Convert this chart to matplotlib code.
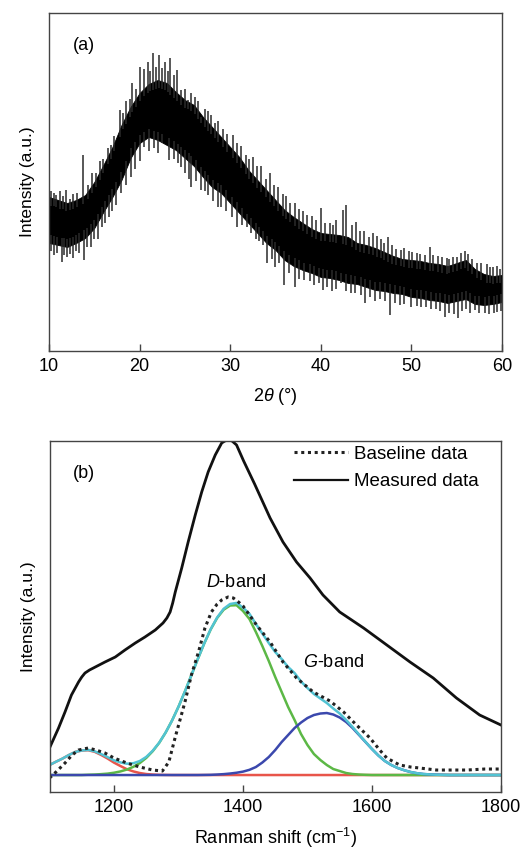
import matplotlib
matplotlib.use('Agg')
import matplotlib.pyplot as plt
from matplotlib.lines import Line2D
import numpy as np

plt.rcParams['font.family'] = ['Liberation Sans', 'DejaVu Sans']
plt.rcParams['mathtext.fontset'] = 'custom'
plt.rcParams['mathtext.rm'] = 'Liberation Sans'
plt.rcParams['mathtext.it'] = 'Liberation Sans:italic'

# ---- (a) XRD pattern: core band of the noisy trace ----
theta = np.arange(10, 61)
xrd_upper = [154, 151, 148, 151, 156, 169, 186, 204, 226, 244, 258, 267, 271, 268, 259, 251,
             246, 234, 224, 214, 204, 194, 181, 171, 161, 151, 141, 134, 128, 122, 118, 117,
             116, 114, 108, 106, 103, 99, 95, 92, 91, 90, 88, 87, 85, 88, 91, 82, 77, 75, 76]
xrd_lower = [108, 106, 104, 108, 113, 123, 139, 154, 171, 193, 208, 214, 211, 206, 201, 193,
             185, 174, 164, 158, 148, 138, 128, 118, 108, 101, 91, 85, 81, 78, 74, 73,
             71, 68, 67, 64, 61, 60, 58, 57, 54, 53, 51, 50, 48, 50, 52, 47, 46, 47, 49]

# noise spikes sticking out of the band (position, tip)
spike_up_x = [10.2, 10.5, 10.8, 11.2, 11.5, 11.9, 12.3, 12.7, 13.1, 13.8, 14.3, 14.8, 15.2, 15.6,
              16.0, 16.5, 16.8, 17.2, 17.8, 18.2, 18.5, 18.9, 19.2, 19.6, 20.0, 20.5, 20.9, 21.2,
              21.5, 21.8, 22.1, 22.5, 22.8, 23.1, 23.4, 23.8, 24.1, 24.6, 25.0, 25.3, 25.7, 26.1,
              26.5, 26.8, 27.2, 27.6, 27.9, 28.3, 28.7, 29.2, 29.7, 30.3, 30.8, 31.2, 31.7, 32.1,
              32.5, 33.0, 33.4, 33.9, 34.4, 34.8, 35.3, 35.8, 36.2, 36.6, 37.1, 37.6, 38.0, 38.5,
              39.0, 39.5, 40.0, 40.5, 41.0, 41.4, 41.7, 42.4, 42.8, 43.4, 43.9, 44.3, 44.8, 45.3,
              45.8, 46.2, 46.6, 47.0, 47.4, 47.9, 48.3, 48.8, 49.2, 49.7, 50.1, 50.6, 51.0, 51.5,
              52.0, 52.4, 52.9, 53.4, 53.9, 54.2, 54.6, 55.0, 55.5, 55.9, 56.3, 56.7, 57.2, 57.7,
              58.3, 58.7, 59.0, 59.5, 59.8]
spike_up_y = [160, 158, 156, 160, 155, 161, 152, 157, 158, 196, 166, 178, 178, 190,
              192, 203, 206, 215, 241, 238, 250, 252, 268, 262, 284, 282, 289, 280,
              298, 284, 296, 283, 289, 280, 293, 276, 281, 261, 262, 251, 258, 254,
              250, 234, 242, 240, 236, 228, 230, 222, 217, 216, 208, 205, 196, 192,
              194, 185, 185, 172, 178, 166, 164, 157, 155, 148, 148, 142, 140, 136,
              135, 131, 143, 128, 128, 126, 131, 141, 146, 126, 129, 120, 120, 114,
              118, 115, 112, 108, 114, 106, 102, 101, 103, 100, 99, 98, 97, 96,
              104, 96, 95, 94, 93, 92, 94, 94, 98, 100, 97, 92, 88, 88,
              87, 84, 84, 85, 82]
spike_dn_x = [10.2, 10.6, 10.9, 11.4, 11.7, 12.0, 12.3, 12.6, 13.0, 13.3, 13.9, 14.2, 14.6, 15.0,
              15.4, 15.8, 16.2, 16.6, 17.0, 17.4, 18.0, 18.5, 19.1, 19.5, 20.0, 20.5, 21.0, 21.6,
              22.0, 22.5, 23.3, 23.8, 24.2, 24.6, 25.0, 25.4, 25.7, 26.2, 26.8, 27.2, 27.6, 28.1,
              28.6, 29.0, 29.5, 30.2, 30.7, 31.3, 31.9, 32.3, 32.8, 33.2, 33.6, 34.1, 34.6, 35.0,
              35.4, 35.9, 36.5, 37.1, 37.6, 38.2, 38.8, 39.3, 39.8, 40.2, 40.7, 41.2, 41.7, 42.2,
              42.8, 43.3, 43.8, 44.4, 44.9, 45.4, 46.0, 46.5, 47.1, 47.6, 48.2, 48.7, 49.2, 50.0,
              50.6, 51.1, 51.6, 52.2, 52.7, 53.2, 53.7, 54.2, 54.7, 55.1, 55.6, 56.0, 56.5, 57.0,
              57.5, 58.1, 58.6, 59.1, 59.4, 59.9]
spike_dn_y = [100, 96, 98, 89, 96, 94, 97, 93, 100, 98, 91, 104, 104, 112,
              112, 124, 128, 134, 140, 146, 158, 166, 174, 182, 190, 204, 200, 203,
              198, 208, 191, 192, 188, 184, 178, 172, 164, 170, 161, 160, 156, 150,
              144, 144, 140, 134, 124, 126, 124, 118, 112, 110, 106, 88, 92, 84,
              88, 66, 78, 64, 72, 71, 70, 66, 68, 61, 64, 60, 62, 68,
              60, 58, 58, 56, 48, 54, 50, 52, 50, 36, 48, 46, 47, 44,
              45, 44, 44, 42, 42, 40, 34, 38, 37, 33, 40, 42, 38, 41,
              38, 38, 37, 38, 39, 40]

# ---- (b) Raman spectrum ----
meas_x = [1100, 1114, 1124, 1134, 1145, 1150, 1155, 1162, 1171, 1186, 1202, 1217, 1233, 1248,
          1264, 1276, 1282, 1287, 1291, 1295, 1305, 1315, 1326, 1336, 1346, 1357, 1367, 1372,
          1377, 1383, 1390, 1401, 1418, 1442, 1462, 1483, 1504, 1524, 1550, 1587, 1623, 1659,
          1695, 1731, 1767, 1800]
meas_y = [44, 64, 80, 97, 110, 115, 119, 122, 125, 130, 135, 142, 149, 155,
          162, 169, 174, 180, 189, 200, 224, 250, 277, 300, 320, 337, 349, 351,
          352, 351, 347, 331, 308, 274, 250, 230, 214, 197, 180, 164, 147, 130,
          114, 94, 77, 67]

base_x = [1100, 1110, 1124, 1135, 1145, 1160, 1172, 1186, 1200, 1220, 1240, 1260, 1275, 1285,
          1295, 1310, 1320, 1331, 1341, 1351, 1360, 1367, 1377, 1385, 1393, 1400, 1410, 1421,
          1442, 1462, 1483, 1509, 1535, 1556, 1576, 1597, 1612, 1623, 1643, 1660, 1674, 1700,
          1720, 1747, 1775, 1800]
base_y = [14, 20, 29, 37, 42, 44, 42, 39, 34, 29, 25, 22, 21, 30,
          55, 90, 117, 140, 164, 180, 188, 192, 195, 194, 190, 186, 177, 167,
          150, 130, 114, 100, 91, 80, 67, 54, 42, 34, 27, 25, 24, 22,
          22, 22, 23, 23]

# fitted components, every 10 cm-1 from 1100 to 1800
fit_x = list(range(1100, 1801, 10))
peak1 = [27, 30.3, 33.4, 37.0, 40.1, 41.5, 41.8, 40.2, 37.1, 33.5, 29.4, 26.0, 22.8, 20.6,
         19.0, 18.0, 17.5, 17.2, 17.1] + [17] * 52
d_band = [17, 17, 17, 17, 17, 17, 17.3, 17.5, 17.9, 18.4, 19.3, 20.6, 22.5, 25.2,
          29.0, 34.1, 40.8, 49.1, 59.4, 71.5, 85.3, 100.6, 116.8, 133.1, 148.7, 162.7, 174.1, 182.3,
          186.5, 186.8, 181, 173, 160, 146, 131, 115, 100, 85, 72, 58, 47, 38,
          32, 27, 23, 21, 19, 18, 17.5, 17.2] + [17] * 21
g_band = [17] * 24 + [17.1, 17.2, 17.5, 17.9, 18.5, 19.3, 20.4, 22.2, 25, 29.5, 35, 42, 50, 57,
                      64, 69.5, 74, 77, 78.5, 79, 77.5, 74.5, 70, 64, 57, 50, 43, 36.5,
                      31, 27, 24, 21.8, 20, 18.8, 18, 17.6, 17.3, 17.15] + [17] * 9
fit_sum = [27, 30.3, 33.4, 37.0, 40.1, 41.5, 42.1, 40.7, 38.0, 34.9, 31.7, 29.6, 28.3, 28.8,
           31.0, 35.1, 41.3, 49.3, 59.5, 71.5, 85.3, 100.6, 116.8, 133.1, 148.8, 162.9, 174.6, 183.2,
           188.0, 189.1, 184.4, 178.2, 168, 158.5, 149, 140, 133, 125, 119, 110.5, 104, 98,
           93.5, 89, 83.5, 78.5, 72, 65, 57.5, 50.2, 43, 36.5, 31, 27, 24, 21.8,
           20, 18.8, 18, 17.6, 17.3, 17.15] + [17] * 9

fig = plt.figure(figsize=(5.24, 8.49), dpi=100)
FS = 13

# panel (a)
ax1 = fig.add_axes([0.0935, 0.5866, 0.8645, 0.3981])
ax1.fill_between(theta, xrd_lower, xrd_upper, color='black', lw=0.6, edgecolor='black')
mid_up = np.interp(spike_up_x, theta, xrd_upper)
mid_dn = np.interp(spike_dn_x, theta, xrd_lower)
ax1.vlines(spike_up_x, mid_up - 8, spike_up_y, color='#2a2a2a', lw=1.1)
ax1.vlines(spike_dn_x, spike_dn_y, mid_dn + 8, color='#2a2a2a', lw=1.1)
ax1.set_xlim(10, 60)
ax1.set_ylim(0, 338)
ax1.set_yticks([])
ax1.set_xticks([10, 20, 30, 40, 50, 60])
ax1.tick_params(axis='x', direction='in', length=5, width=1, labelsize=FS, pad=5, color='#444444')
ax1.set_xlabel(r'$\mathit{2\theta}$ (°)', fontsize=FS, labelpad=8)
ax1.set_ylabel('Intensity (a.u.)', fontsize=12.5, labelpad=10)
ax1.text(0.052, 0.905, '(a)', transform=ax1.transAxes, fontsize=FS, va='center')

# panel (b)
ax2 = fig.add_axes([0.0945, 0.0671, 0.8615, 0.4135])
ax2.plot(fit_x, peak1, color='#e8554a', lw=1.8)
ax2.plot(fit_x, d_band, color='#5cb846', lw=1.8)
ax2.plot(fit_x, g_band, color='#3b48ad', lw=1.8)
ax2.plot(fit_x, fit_sum, color='#52c3d3', lw=1.8)
ax2.plot(base_x, base_y, color='#222222', lw=2.2, linestyle=(0, (1, 1.2)))
ax2.plot(meas_x, meas_y, color='#111111', lw=2)
ax2.set_xlim(1100, 1800)
ax2.set_ylim(0, 351)
ax2.set_yticks([])
ax2.set_xticks([1200, 1400, 1600, 1800])
ax2.tick_params(axis='x', direction='in', length=5, width=1, labelsize=FS, pad=5, color='#444444')
ax2.set_xlabel('Ranman shift (cm$^{-1}$)', fontsize=FS, labelpad=7)
ax2.set_ylabel('Intensity (a.u.)', fontsize=12.5, labelpad=10)
ax2.text(0.052, 0.907, '(b)', transform=ax2.transAxes, fontsize=FS, va='center')
ax2.text(1389, 209, r'$\mathit{D}$-band', fontsize=FS, ha='center', va='center')
ax2.text(1540, 130, r'$\mathit{G}$-band', fontsize=FS, ha='center', va='center')

handles = [Line2D([], [], color='#222222', lw=2.2, linestyle=(0, (1, 1.2))),
           Line2D([], [], color='#111111', lw=1.6)]
ax2.legend(handles, ['Baseline data', 'Measured data'], loc='upper right',
           bbox_to_anchor=(0.95, 0.986), frameon=False, fontsize=13.5, borderpad=0,
           handlelength=2.9, handletextpad=0.3, labelspacing=0.55, borderaxespad=0)

for ax in (ax1, ax2):
    for s in ax.spines.values():
        s.set_color('#444444')
        s.set_linewidth(1)

fig.savefig('out.png', dpi=100)
